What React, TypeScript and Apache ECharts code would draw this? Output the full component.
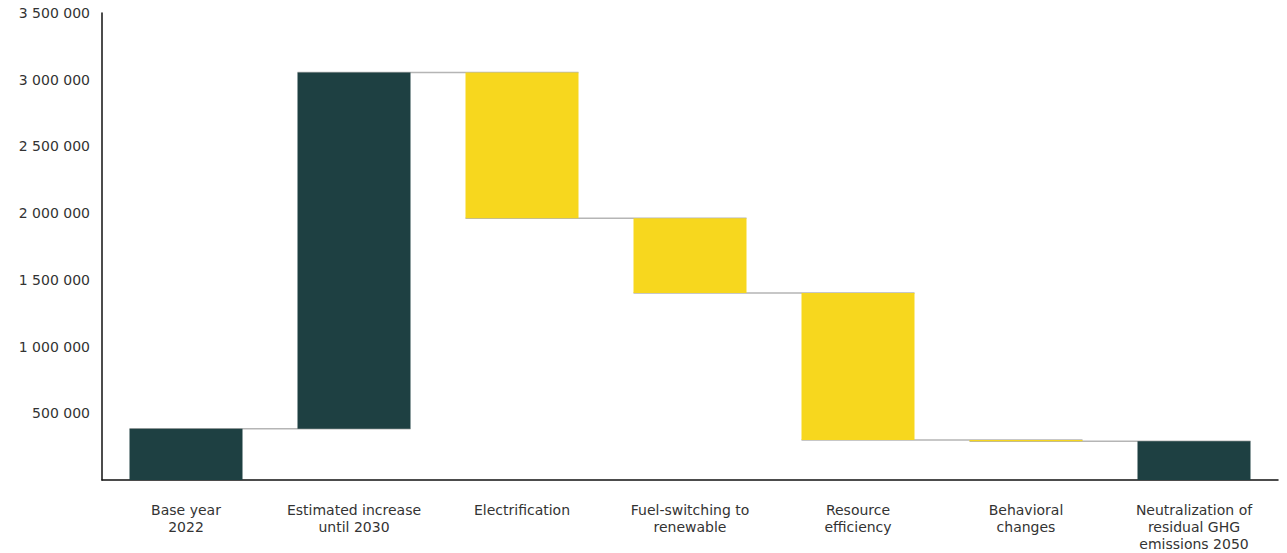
import React, { useEffect, useRef } from "react";
import * as echarts from "echarts";

// Emission pathway steps (tCO2e)
const categories = [
  "Base year\n2022",
  "Estimated increase\nuntil 2030",
  "Electrification",
  "Fuel-switching to\nrenewable",
  "Resource\nefficiency",
  "Behavioral\nchanges",
  "Neutralization of\nresidual GHG\nemissions 2050",
];
// Change contributed by each step; the first is the starting total
const deltas = [385000, 2670000, -1093000, -561000, -1101000, -10000];
const finalTotal = 290000;
const yTicks = [0, 500000, 1000000, 1500000, 2000000, 2500000, 3000000, 3500000];

const DARK = "#1e4042";
const YELLOW = "#f7d71e";

function buildWaterfall() {
  const base: number[] = [];
  const visible: { value: number; itemStyle: { color: string } }[] = [];
  const levels: number[] = [];
  let running = 0;
  deltas.forEach((d) => {
    const next = running + d;
    base.push(Math.min(running, next));
    visible.push({
      value: Math.abs(d),
      itemStyle: { color: d > 0 ? DARK : YELLOW },
    });
    running = next;
    levels.push(running);
  });
  base.push(0);
  visible.push({ value: finalTotal, itemStyle: { color: DARK } });
  return { base, visible, levels };
}

function formatThousands(v: number) {
  return String(v).replace(/\B(?=(\d{3})+(?!\d))/g, " ");
}

export default function App() {
  const ref = useRef<HTMLDivElement>(null);

  useEffect(() => {
    document.body.style.margin = "0";
    if (!ref.current) return;
    const chart = echarts.init(ref.current, undefined, { renderer: "svg" });
    const { base, visible, levels } = buildWaterfall();
    const barWidth = 113;

    chart.setOption({
      animation: false,
      textStyle: { fontFamily: "'DejaVu Sans', sans-serif" },
      grid: { left: 102, right: 9, top: 13, bottom: 73 },
      xAxis: {
        type: "category",
        data: categories,
        axisLine: { show: true, lineStyle: { color: "#111", width: 1.5 } },
        axisTick: { show: false },
        axisLabel: {
          color: "#333",
          fontSize: 14,
          lineHeight: 17,
          margin: 21,
          interval: 0,
        },
      },
      yAxis: {
        type: "value",
        min: yTicks[0],
        max: yTicks[yTicks.length - 1],
        interval: yTicks[1] - yTicks[0],
        splitLine: { show: false },
        axisLine: { show: true, lineStyle: { color: "#111", width: 1.5 } },
        axisTick: { show: false },
        axisLabel: {
          color: "#333",
          fontSize: 14,
          margin: 12,
          formatter: (v: number) => (v === 0 ? "" : formatThousands(v)),
        },
      },
      series: [
        {
          // connector lines between consecutive steps
          type: "custom",
          z: 1,
          data: levels.map((lv, i) => [i, lv]),
          renderItem: (params: any, api: any) => {
            const i = api.value(0);
            const lv = api.value(1);
            const a = api.coord([i, lv]);
            const b = api.coord([i + 1, lv]);
            return {
              type: "line",
              shape: { x1: a[0] - barWidth / 2, y1: a[1], x2: b[0] + barWidth / 2, y2: b[1] },
              style: { stroke: "#b5b5b5", lineWidth: 1.5 },
            };
          },
          silent: true,
        },
        {
          type: "bar",
          stack: "wf",
          z: 2,
          barWidth,
          itemStyle: { color: "transparent" },
          data: base,
          silent: true,
        },
        {
          type: "bar",
          stack: "wf",
          z: 2,
          barWidth,
          data: visible,
        },
      ],
    });

    return () => chart.dispose();
  }, []);

  return <div ref={ref} style={{ width: 1287, height: 553 }} />;
}
